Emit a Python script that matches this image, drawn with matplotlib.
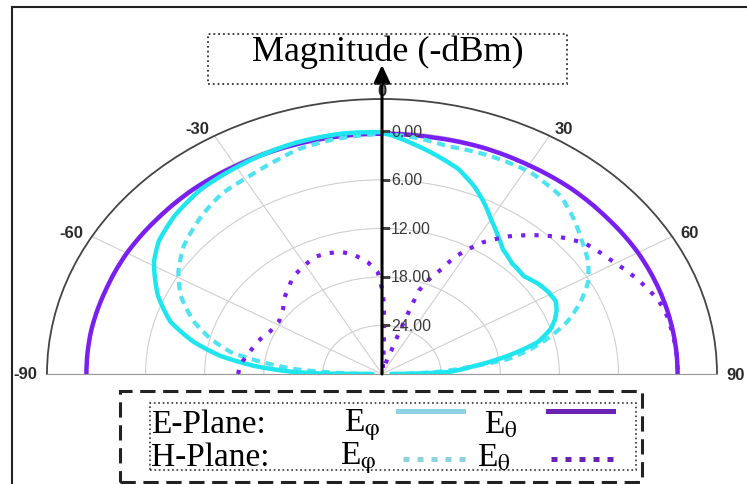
import numpy as np
import matplotlib
matplotlib.use("Agg")
import matplotlib.pyplot as plt
from matplotlib.lines import Line2D
from matplotlib.patches import Rectangle
from matplotlib.ticker import FixedLocator
from matplotlib.transforms import offset_copy

plt.rcParams["font.family"] = ["Liberation Sans", "DejaVu Sans"]
plt.rcParams["mathtext.fontset"] = "stix"

# E-plane, E_phi (solid cyan) : angle (deg), magnitude (-dBm)
e_phi_deg = [-90, -89.5, -88.4, -85.6, -82.3, -78.3, -73.3, -67, -59, -54, -47,
             -39, -31, -17, -8, 0, 6.5, 12, 17, 22, 26, 30, 34.7, 38.5, 44, 50,
             55, 59, 63, 66, 69, 72, 76, 80, 84, 88, 90]
e_phi_mag = [29, 24, 21, 17, 13.5, 10.5, 7.6, 5.3, 3.0, 2.0, 1.26,
             0.7, 0.5, 0.1, 0.0, 0.1, 1.4, 2.5, 3.5, 5.0, 6.4, 7.9, 9.3, 10.3, 11.0, 11.2,
             10.6, 10.3, 10.2, 10.6, 11.2, 12.0, 13.7, 17.0, 20.6, 23.3, 29]

# E-plane, E_theta (solid purple)
e_theta_deg = [-90, -80, -70, -60, -50, -40, -30, -20, -10, 0,
               10, 20, 30, 40, 50, 60, 70, 80, 90]
e_theta_mag = [0.0, 0.0, 0.1, 0.1, 0.2, 0.2, 0.3, 0.3, 0.3, 0.3,
               0.3, 0.2, 0.2, 0.1, 0.1, 0.0, 0.0, 0.0, 0.0]

# H-plane, E_phi (dotted cyan)
h_phi_deg = [-90, -88, -86, -83, -80, -76, -71.4, -64.7, -58.7, -51.8, -43, -36,
             -29, -22, -17, -10, 0, 7, 13.4, 22, 31, 39.6, 45.5, 50.5, 56.5, 61.5,
             66, 71, 74.7, 78.5, 81.8, 84, 87, 90]
h_phi_mag = [29, 25, 21, 17.6, 14.4, 12.1, 9.9, 7.4, 5.8, 4.4, 3.2, 2.4,
             2.1, 1.5, 0.94, 0.6, 0.3, 0.6, 1.07, 0.9, 0.85, 1.5, 2.7, 3.8, 4.9, 6.2,
             7.9, 10.1, 12.2, 14.6, 17.1, 20.6, 24, 29]

# H-plane, E_theta (dotted purple), two lobes with a null just right of 0
h_theta_deg = [-90, -85, -80, -72, -65, -58, -51, -47, -42, -37, -31, -25, -20,
               -15, -11, -6, -2, 0, 1, 2, 3, 5, 10, 15, 18, 19, 19.5, 20, 22, 25,
               27, 32, 37, 42, 47, 52, 59, 66, 72, 76, 80, 85, 90]
h_theta_mag = [15.4, 15.6, 16.2, 16.8, 17.5, 17.7, 17.1, 16.4, 15.8, 15.0, 14.5, 14.0, 14.1,
               14.4, 15.0, 16.1, 17.4, 19.5, 21, 24, 27, 29, 29.5, 29, 27, 24, 21.5, 19, 17.5, 15.7,
               13.8, 10.85, 8.7, 6.9, 5.2, 3.8, 2.8, 1.5, 0.5, 0.2, 0.1, 0.0, 0.0]

theta_ticks = [-90, -60, -30, 0, 30, 60, 90]
theta_labels = ["-90", "-60", "-30", "0", "30", "60", "90"]
r_ticks = [0, 6, 12, 18, 24]
r_labels = ["0.00", "6.00", "12.00", "18.00", "24.00"]

CYAN = "#1fe6ee"
CYAN_DOT = "#4fe3f2"
PURPLE = "#7a1ff2"
LEG_CYAN = "#8cd2e0"
LEG_PURPLE = "#6a22b3"

W, H = 747, 485


def fx(px):
    return px / W


def fy(py):
    return 1 - py / H


fig = plt.figure(figsize=(W / 100, H / 100), dpi=100)

# figure frame (only left and top edges fall inside the picture)
fig.add_artist(Rectangle((fx(12), -0.05), 1.1, fy(8) + 0.05, transform=fig.transFigure,
                         fill=False, lw=1.5, ec="#222222"))

# the half circle sits at 0.25..0.75 of the polar axes height, so the box is
# twice as tall as the plot and is stretched sideways like the original
ax = fig.add_axes([fx(47), fy(375) - 0.25 * 550 / H, 670 / W, 550 / H],
                  projection="polar")
ax.set_theta_zero_location("N")
ax.set_theta_direction(-1)
ax.set_thetamin(-90)
ax.set_thetamax(90)
ax.set_ylim(30, -4)
ax.set_aspect("auto")

ax.set_xticks(np.deg2rad(theta_ticks))
ax.set_xticklabels([])
ax.xaxis.set_minor_locator(FixedLocator(np.deg2rad(np.arange(-90, 91, 5))))
ax.tick_params(axis="x", which="major", direction="in", length=7, width=1.1,
               color="#333333")
ax.tick_params(axis="x", which="minor", direction="in", length=4, width=0.9,
               color="#333333")
ax.set_yticks(r_ticks)
ax.set_yticklabels([])
ax.grid(True, which="major", color="#cfcfcf", lw=0.8)
ax.spines["polar"].set_color("#444444")
ax.spines["polar"].set_linewidth(1.3)
ax.spines["start"].set_color("#999999")
ax.spines["end"].set_color("#999999")

# angle labels just outside the rim, pushed sideways like the original
for t, lab in zip(theta_ticks, theta_labels):
    ha = "center" if t == 0 else ("right" if t < 0 else "left")
    ax.text(np.deg2rad(t), -5, lab, ha=ha, va="center", fontsize=12,
            fontweight="bold", color="#2a2a2a")

lines = []
lines += ax.plot(np.deg2rad(e_theta_deg), e_theta_mag, color=PURPLE, lw=3.2, zorder=3)
lines += ax.plot(np.deg2rad(h_phi_deg), h_phi_mag, color=CYAN_DOT, lw=3,
                 ls=(0, (2, 1.4)), zorder=4)
lines += ax.plot(np.deg2rad(e_phi_deg), e_phi_mag, color=CYAN, lw=3.2, zorder=5)
lines += ax.plot(np.deg2rad(h_theta_deg), h_theta_mag, color=PURPLE, lw=3,
                 ls=(0, (1, 2.2)), zorder=6)
# draw segments as arcs in polar space instead of straight chords
for ln in lines:
    ln.get_path()._interpolation_steps = 20

# radial labels beside the arrow
lab_tr = offset_copy(ax.transData, fig=fig, x=9, y=0, units="dots")
for r, lab in zip(r_ticks, r_labels):
    ax.plot(0, r, marker=1, ms=6, mew=1, color="#444444", zorder=8)
    ax.text(0, r, lab, transform=lab_tr, ha="left", va="center",
            fontsize=11.5, color="#3a3a3a", zorder=8)

# axis arrow pointing at the title box
ax.annotate("", xy=(fx(382), fy(66)), xycoords="figure fraction",
            xytext=(0, 30), textcoords="data", annotation_clip=False, zorder=10,
            arrowprops=dict(arrowstyle="-|>,head_length=0.75,head_width=0.35",
                            color="black", lw=2.2, shrinkA=0, shrinkB=0,
                            mutation_scale=14))

fig.add_artist(Rectangle((fx(208), fy(85)), 359 / W, 50 / H, transform=fig.transFigure,
                         fill=False, ls=":", lw=1.3, ec="#333333"))
fig.text(fx(388), fy(52), "Magnitude (-dBm)", family="Liberation Serif",
         size=26, ha="center", va="center")

# hand-made legend
fig.add_artist(Rectangle((fx(120), fy(483)), 522 / W, 91 / H, transform=fig.transFigure,
                         fill=False, lw=2.2, ls=(0, (5, 2.5)), ec="#222222"))
fig.add_artist(Rectangle((fx(150), fy(471)), 486 / W, 67 / H, transform=fig.transFigure,
                         fill=False, lw=1.2, ls=":", ec="#333333"))

serif = dict(family="Liberation Serif", size=24, va="center", ha="left")
fig.text(fx(151), fy(425), "E-Plane:", **serif)
fig.text(fx(151), fy(458), "H-Plane:", **serif)
fig.text(fx(344), fy(425), r"E$_{\mathrm{\varphi}}$", **serif)
fig.text(fx(484), fy(425), r"E$_{\mathrm{\theta}}$", **serif)
fig.text(fx(340), fy(458), r"E$_{\mathrm{\varphi}}$", **serif)
fig.text(fx(477), fy(458), r"E$_{\mathrm{\theta}}$", **serif)

fig.add_artist(Line2D([fx(398), fx(463)], [fy(412), fy(412)], color=LEG_CYAN, lw=3.6))
fig.add_artist(Line2D([fx(548), fx(613)], [fy(412), fy(412)], color=LEG_PURPLE, lw=3.6))
fig.add_artist(Line2D([fx(403), fx(469)], [fy(460), fy(460)], color=LEG_CYAN, lw=3.6,
                      ls=(0, (1.2, 1.6))))
fig.add_artist(Line2D([fx(551), fx(617)], [fy(460), fy(460)], color=LEG_PURPLE, lw=3.6,
                      ls=(0, (1.2, 1.6))))

fig.savefig("out.png", dpi=100)
